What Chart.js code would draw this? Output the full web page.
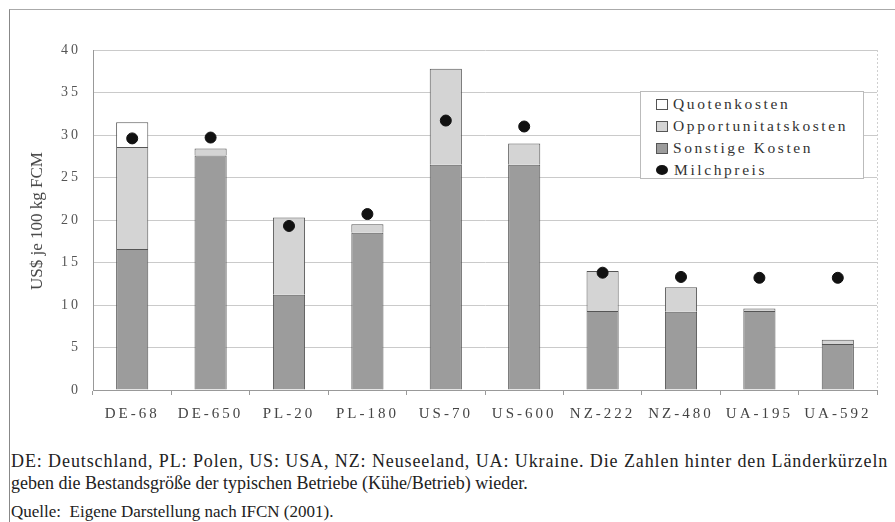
<!DOCTYPE html>
<html>
<head>
<meta charset="utf-8">
<script src="https://cdn.jsdelivr.net/npm/chart.js@4.4.1/dist/chart.umd.min.js"></script>
<style>
    body { margin: 0; background: #fff; font-family: 'Liberation Serif', serif; }
    #wrap { position: relative; width: 895px; height: 522px; overflow: hidden; background: #fff; }
    #frame { position: absolute; left: 9px; top: 9px; width: 900px; height: 530px; border-left: 1px solid #888; border-top: 1px solid #aaa; }
    #chartBox { position: absolute; left: 0; top: 0; width: 895px; height: 432px; }
    .ytitle { position: absolute; left: 37px; top: 221px; transform: translate(-50%, -50%) rotate(-90deg); font-size: 17px; color: #444; white-space: nowrap; }
    .legend { position: absolute; left: 640px; top: 91px; width: 224px; height: 88px; border: 1px solid #bbb; background: #fff; box-sizing: border-box; padding-top: 1px; }
    .legend-row { display: flex; align-items: center; height: 22px; padding-left: 15px; font-size: 15.5px; letter-spacing: 2.6px; color: #333; }
    .sw { width: 12px; height: 11px; border: 1px solid #555; margin-right: 5px; box-sizing: border-box; }
    .dot { width: 12px; height: 10px; border-radius: 50%; background: #111; margin-right: 6px; }
    .note { position: absolute; left: 11px; font-size: 18px; color: #222; white-space: nowrap; }
</style>
</head>
<body>
<div id="wrap">
    <div id="frame"></div>
    <div id="chartBox"><canvas id="milkChart" width="895" height="432"></canvas></div>
    <div class="ytitle">US$ je 100 kg FCM</div>
    <div class="legend">
        <div class="legend-row"><span class="sw" style="background:#fff"></span>Quotenkosten</div>
        <div class="legend-row"><span class="sw" style="background:#d4d4d4"></span>Opportunitatskosten</div>
        <div class="legend-row"><span class="sw" style="background:#9c9c9c"></span>Sonstige Kosten</div>
        <div class="legend-row"><span class="dot"></span>Milchpreis</div>
    </div>
    <div class="note" style="top:451px; letter-spacing:0.9px">DE: Deutschland, PL: Polen, US: USA, NZ: Neuseeland, UA: Ukraine. Die Zahlen hinter den Länderkürzeln</div>
    <div class="note" style="top:473px">geben die Bestandsgröße der typischen Betriebe (Kühe/Betrieb) wieder.</div>
    <div class="note" style="top:502px; font-size:17px">Quelle:&nbsp; Eigene Darstellung nach IFCN (2001).</div>
</div>
<script>
const categories = ["DE-68", "DE-650", "PL-20", "PL-180", "US-70", "US-600", "NZ-222", "NZ-480", "UA-195", "UA-592"];
const sonstigeKosten = [16.6, 27.6, 11.2, 18.5, 26.5, 26.5, 9.3, 9.2, 9.3, 5.4];
const opportunitaetskosten = [12.0, 0.8, 9.1, 1.0, 11.3, 2.5, 4.7, 2.9, 0.3, 0.5];
const quotenkosten = [2.9, null, null, null, null, null, null, null, null, null];
const milchpreis = [29.6, 29.7, 19.3, 20.7, 31.7, 31.0, 13.8, 13.3, 13.2, 13.2];
const yTicks = { min: 0, max: 40, step: 5 };

const FONT = "'Liberation Serif', serif";

// letter-spaced tick labels like the scanned original
const spacingPlugin = {
    id: "spacing",
    beforeDraw(chart) { chart.ctx.letterSpacing = "3px"; },
    afterDraw(chart) {
        const { ctx, chartArea } = chart;
        ctx.save();
        ctx.letterSpacing = "0px";
        ctx.strokeStyle = "#cfcfcf";
        ctx.lineWidth = 1;
        ctx.setLineDash([2, 2]);
        ctx.beginPath();
        ctx.moveTo(chartArea.right + 0.5, chartArea.top);
        ctx.lineTo(chartArea.right + 0.5, chartArea.bottom);
        ctx.stroke();
        ctx.restore();
    }
};

const barStyle = { borderColor: "#555", borderWidth: 1, barPercentage: 0.82, categoryPercentage: 0.5, stack: "kosten", order: 1 };

new Chart(document.getElementById("milkChart"), {
    data: {
        labels: categories,
        datasets: [
            { type: "bar", label: "Sonstige Kosten", data: sonstigeKosten, backgroundColor: "#9c9c9c", ...barStyle },
            { type: "bar", label: "Opportunitatskosten", data: opportunitaetskosten, backgroundColor: "#d4d4d4", ...barStyle },
            { type: "bar", label: "Quotenkosten", data: quotenkosten, backgroundColor: "#ffffff", ...barStyle },
            {
                type: "line", label: "Milchpreis", data: milchpreis, stack: "milch", order: 0,
                showLine: false, pointRadius: 5.5, pointHoverRadius: 5.5,
                pointBackgroundColor: "#111", pointBorderColor: "#111"
            }
        ]
    },
    options: {
        responsive: false,
        animation: false,
        layout: { padding: { left: 0, top: 50, right: 18, bottom: 2 } },
        plugins: { legend: { display: false }, tooltip: { enabled: false } },
        scales: {
            x: {
                stacked: true,
                grid: { drawOnChartArea: false, color: "#999", tickLength: 5 },
                border: { color: "#999" },
                ticks: { color: "#444", font: { family: FONT, size: 15 }, padding: 10 },
                afterFit: s => { s.height = 40; }
            },
            y: {
                stacked: true,
                min: yTicks.min,
                max: yTicks.max,
                ticks: { stepSize: yTicks.step, color: "#555", font: { family: FONT, size: 14 }, padding: 12 },
                grid: { color: "#cacaca", drawTicks: false },
                border: { color: "#999" },
                afterFit: s => { s.width = 93; }
            }
        }
    },
    plugins: [spacingPlugin]
});
</script>
</body>
</html>
